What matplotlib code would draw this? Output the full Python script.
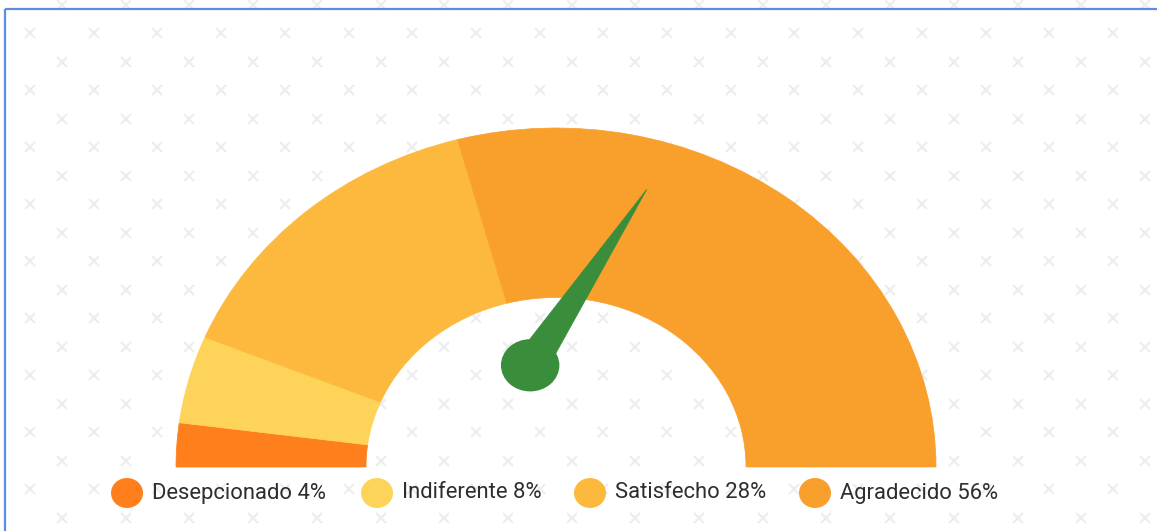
import numpy as np
import matplotlib
matplotlib.use("Agg")
import matplotlib.pyplot as plt
from matplotlib.patches import Wedge, Circle, Polygon, Ellipse

# ---- data ----
categories = ["Desepcionado", "Indiferente", "Satisfecho", "Agradecido"]
percent = [4, 8, 28, 56]
seg_colors = ["#FE7F1C", "#FDD459", "#FCB93E", "#F99F2C"]
needle_value = 67  # position of the needle along the gauge (% of scale)

W, H = 1157, 531
fig = plt.figure(figsize=(W / 100, H / 100), dpi=100)
fig.patch.set_facecolor("white")

# background layer in pixel coordinates
bg = fig.add_axes([0, 0, 1, 1])
bg.set_xlim(0, W)
bg.set_ylim(H, 0)
bg.axis("off")

# patterned x marks
xs, ys = [], []
for r in range(20):
    y = 4.5 + 28.5 * r
    x0 = 62 if r % 2 == 0 else 30
    for k in range(20):
        xs.append(x0 + 63.7 * k)
        ys.append(y)
bg.plot(xs, ys, linestyle="none", marker="x", markersize=7.5,
        markeredgewidth=1.5, color="#ededed", zorder=1)

# blue frame
bg.plot([4.5, W], [8.5, 8.5], color="#5b8de4", lw=1.6, zorder=2, solid_capstyle="butt")
bg.plot([4.5, 4.5], [8.5, H], color="#5b8de4", lw=1.6, zorder=2, solid_capstyle="butt")

# gauge axes: 1 unit = 380 px horizontally, 339 px vertically, centre at (556, 467)
cx, cy = 556, 467
sx, sy = 380, 339
ax = fig.add_axes([0, 0, 1, 1])
ax.patch.set_alpha(0)
ax.set_xlim(-cx / sx, (W - cx) / sx)
ax.set_ylim(-(H - cy) / sy, cy / sy)
ax.axis("off")

total = sum(percent)
cum = 0
for p, c in zip(percent, seg_colors):
    t2 = 180 - cum / total * 180
    cum += p
    t1 = 180 - cum / total * 180
    ax.add_patch(Wedge((0, 0), 1.0, t1, t2, width=0.5, facecolor=c,
                       edgecolor=c, lw=0.5, zorder=3))

# needle
pivot = np.array([-0.068, 0.30])
ang = np.deg2rad(180 * (1 - needle_value / 100))
length = 0.603
tip = pivot + length * np.array([np.cos(ang), np.sin(ang)])
perp = np.array([-np.sin(ang), np.cos(ang)])
half = 0.045
base1 = pivot + perp * half
base2 = pivot - perp * half
ax.add_patch(Polygon([tip, base1, base2], closed=True, facecolor="#3a8d3b",
                     edgecolor="#3a8d3b", lw=0.5, zorder=5))
ax.add_patch(Circle(pivot, 0.075, facecolor="#3a8d3b", edgecolor="#3a8d3b", zorder=6))

# legend
legend_x = [127, 377, 590, 815]
legend_y = 493
for name, p, c, lx in zip(categories, percent, seg_colors, legend_x):
    bg.add_patch(Ellipse((lx, legend_y), 32, 30, facecolor=c, edgecolor="none", zorder=4))
    bg.text(lx + 25, legend_y, f"{name} {p}%", fontsize=15.8, family="Roboto",
            color="#2e2e2e", va="center", ha="left", zorder=5)

fig.savefig("out.png", dpi=100, facecolor="white")
